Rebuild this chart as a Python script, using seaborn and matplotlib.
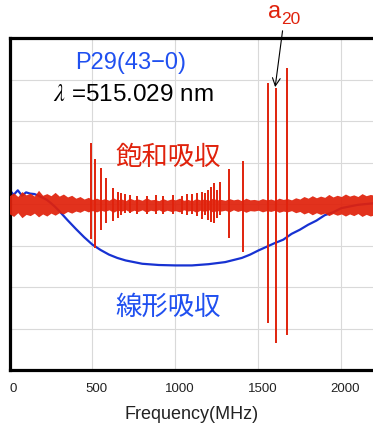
import matplotlib
matplotlib.use("Agg")
import matplotlib.pyplot as plt
import matplotlib.transforms as mtransforms
import seaborn as sns
import numpy as np

# ---- data (x in MHz, y in arbitrary units) ----
blue_freq = [0, 25, 50, 75, 100, 125, 150, 175, 200, 225, 250, 275, 300, 350, 400,
             450, 500, 550, 600, 650, 700, 800, 900, 1000, 1100, 1200, 1300, 1400,
             1450, 1500, 1550, 1600, 1650, 1700, 1750, 1800, 1850, 1900, 1950, 2000,
             2050, 2100, 2150, 2200]
blue_signal = [0.34, 0.22, 0.33, 0.2, 0.28, 0.25, 0.24, 0.2, 0.15, 0.1, 0.02, -0.07,
               -0.17, -0.39, -0.6, -0.8, -0.98, -1.11, -1.22, -1.3, -1.36, -1.44, -1.47,
               -1.48, -1.48, -1.45, -1.4, -1.3, -1.22, -1.12, -1.03, -0.94, -0.86, -0.72,
               -0.62, -0.5, -0.4, -0.27, -0.2, -0.1, -0.06, -0.02, 0.0, 0.02]

# noise band of the saturated absorption signal (upper / lower envelope, 25 MHz steps)
band_freq = list(range(0, 2201, 25))
band_upper = [0.2, 0.27, 0.18, 0.3, 0.22, 0.26, 0.19, 0.33, 0.21, 0.25, 0.2,
              0.28, 0.19, 0.24, 0.17, 0.21, 0.14, 0.18, 0.12, 0.16, 0.11,
              0.14, 0.1, 0.13, 0.09, 0.15, 0.1, 0.12, 0.08, 0.14, 0.1,
              0.12, 0.09, 0.15, 0.1, 0.11, 0.08, 0.13, 0.09, 0.12, 0.1,
              0.14, 0.09, 0.11, 0.08, 0.13, 0.1, 0.12, 0.09, 0.14, 0.1,
              0.11, 0.09, 0.13, 0.1, 0.12, 0.08, 0.14, 0.1, 0.11, 0.09,
              0.13, 0.1, 0.12, 0.09, 0.14, 0.11, 0.13, 0.1, 0.15, 0.12,
              0.18, 0.14, 0.2, 0.15, 0.19, 0.16, 0.23, 0.17, 0.21, 0.18,
              0.24, 0.19, 0.22, 0.18, 0.25, 0.2, 0.23, 0.21]
band_lower = [-0.24, -0.3, -0.21, -0.33, -0.25, -0.28, -0.22, -0.31, -0.24, -0.29, -0.22,
              -0.27, -0.21, -0.24, -0.18, -0.22, -0.17, -0.2, -0.15, -0.19, -0.16,
              -0.19, -0.15, -0.18, -0.14, -0.2, -0.15, -0.17, -0.14, -0.19, -0.15,
              -0.18, -0.14, -0.2, -0.15, -0.17, -0.14, -0.19, -0.15, -0.18, -0.16,
              -0.19, -0.14, -0.17, -0.15, -0.2, -0.15, -0.18, -0.14, -0.19, -0.16,
              -0.17, -0.15, -0.19, -0.14, -0.18, -0.15, -0.2, -0.16, -0.17, -0.15,
              -0.19, -0.16, -0.18, -0.15, -0.2, -0.17, -0.19, -0.16, -0.21, -0.18,
              -0.24, -0.2, -0.26, -0.21, -0.25, -0.22, -0.28, -0.23, -0.27, -0.24,
              -0.29, -0.24, -0.28, -0.23, -0.3, -0.25, -0.29, -0.26]

# resonance spikes: position, top, bottom
spike_freq = [494, 518, 551, 584, 623, 654, 675, 699, 729, 771, 831, 880, 928, 988,
              1042, 1072, 1102, 1133, 1163, 1181, 1199, 1217, 1232, 1253, 1271,
              1325, 1410, 1558, 1608, 1673]
spike_top = [1.47, 1.08, 0.87, 0.63, 0.39, 0.29, 0.27, 0.24, 0.22, 0.2, 0.2, 0.21,
             0.2, 0.22, 0.2, 0.24, 0.25, 0.27, 0.3, 0.26, 0.34, 0.41, 0.5, 0.34, 0.53,
             0.84, 1.04, 2.92, 2.8, 3.28]
spike_bottom = [-0.85, -1.06, -0.63, -0.46, -0.41, -0.34, -0.27, -0.22, -0.22, -0.24,
                -0.24, -0.23, -0.25, -0.24, -0.25, -0.26, -0.25, -0.28, -0.35, -0.26,
                -0.39, -0.43, -0.46, -0.34, -0.27, -0.82, -1.16, -2.87, -3.35, -3.16]

x_ticks = [0, 500, 1000, 1500, 2000]

RED = '#e0220c'
BLUE = '#1732d2'
TEXT_BLUE = '#2050f0'

# ---- style ----
sns.set_style("whitegrid", {"grid.color": "#d9d9d9"})
plt.rcParams['font.family'] = ['Liberation Sans', 'Noto Sans CJK JP', 'DejaVu Sans']
plt.rcParams['mathtext.fontset'] = 'stix'

fig = plt.figure(figsize=(3.73, 4.26), dpi=100)
W, H = 373.0, 426.0
ax = fig.add_axes([9.5 / W, (426 - 370) / H, 365 / W, 332 / H])

# linear absorption (blue)
sns.lineplot(x=blue_freq, y=blue_signal, ax=ax, color=BLUE, lw=1.6, zorder=2)

# saturated absorption (red)
ax.fill_between(band_freq, band_lower, band_upper, color=RED, lw=0,
                alpha=0.93, zorder=3)
ax.vlines(spike_freq, spike_bottom, spike_top, color=RED, lw=1.4, zorder=4)

ax.set_xlim(0, 2200)
ax.set_ylim(-4, 4)
ax.set_xticks(x_ticks)
ax.set_xticklabels([str(t) for t in x_ticks], fontsize=9.5, color='#222222')
ax.set_yticks(np.arange(-4, 5, 1))
ax.set_yticklabels([])
ax.tick_params(axis='both', length=0, pad=9)
offset = mtransforms.ScaledTranslation(4 / 100, 0, fig.dpi_scale_trans)
for lab in ax.get_xticklabels():
    lab.set_transform(lab.get_transform() + offset)
ax.grid(True, color='#d9d9d9', lw=0.8)
ax.set_xlabel('Frequency(MHz)', fontsize=13, color='#222222', labelpad=8)

for side in ['left', 'top', 'bottom']:
    ax.spines[side].set_color('black')
    ax.spines[side].set_linewidth(2.3)
ax.spines['right'].set_visible(False)

# ---- annotations ----
ax.text(394, 3.4, 'P29(43\u22120)', color=TEXT_BLUE, fontsize=17, ha='left', va='center')
ax.text(262, 2.63, r'$\lambda$ =515.029 nm', color='black', fontsize=17.5,
        ha='left', va='center')
ax.text(636, 1.11, '飽和吸収', color=RED, fontsize=19, ha='left', va='center')
ax.text(636, -2.5, '線形吸収', color=TEXT_BLUE, fontsize=19, ha='left', va='center')

ax.text(1557, 4.62, 'a', color=RED, fontsize=17, ha='left', va='center', clip_on=False)
ax.text(1640, 4.45, '20', color=RED, fontsize=12.5, ha='left', va='center', clip_on=False)
ax.annotate('', xy=(1599, 2.75), xytext=(1648, 4.24),
            arrowprops=dict(arrowstyle='->', lw=0.8, color='black', mutation_scale=14),
            annotation_clip=False)

plt.savefig('out.png', dpi=100)
